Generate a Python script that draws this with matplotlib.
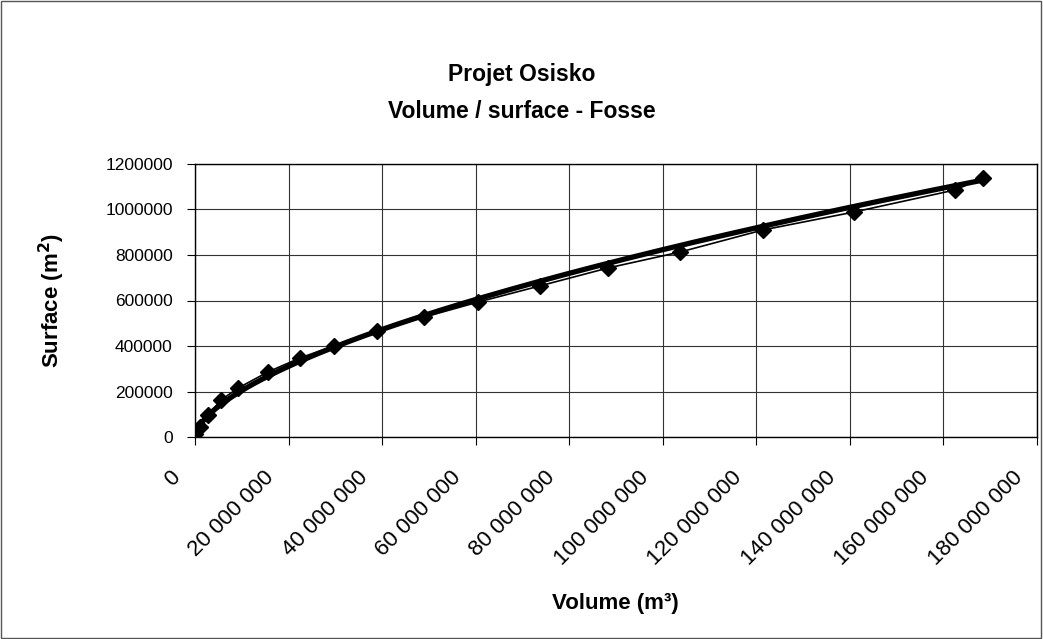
import numpy as np
import matplotlib
matplotlib.use("Agg")
import matplotlib.pyplot as plt
from matplotlib.ticker import FuncFormatter, MultipleLocator
from matplotlib.patches import Rectangle
from matplotlib.transforms import ScaledTranslation

plt.rcParams['font.family'] = ['Liberation Sans', 'DejaVu Sans']

# Data
volume_m3 = [0, 1.1e6, 2.8e6, 5.6e6, 9.2e6, 15.6e6, 22.4e6, 29.7e6, 38.9e6,
             49.0e6, 60.5e6, 73.7e6, 88.3e6, 103.7e6, 121.4e6, 140.9e6,
             162.5e6, 168.4e6]
surface_m2 = [12000, 44000, 97000, 163000, 215000, 286000, 347000, 400000,
              466000, 527000, 593000, 664000, 743000, 813000, 910000, 989000,
              1086000, 1138000]

title_lines = ["Projet Osisko", "Volume / surface - Fosse"]
x_label = "Volume (m³)"
y_label = r"Surface (m$^{\mathbf{2}}$)"

fig = plt.figure(figsize=(10.43, 6.39), dpi=100)
ax = fig.add_axes([195/1043, 1-437/639, (1037-195)/1043, (437-164)/639])

vx = np.array(volume_m3)
sy = np.array(surface_m2)

# Power trendline (as in the spreadsheet chart)
mask = vx > 0
b, loga = np.polyfit(np.log(vx[mask]), np.log(sy[mask]), 1)
xt = np.linspace(vx[mask].min() * 0.3, vx.max(), 400)
ax.plot(xt, np.exp(loga) * xt ** b, color='black', lw=3.8, zorder=3,
        solid_capstyle='round')

ax.plot(vx, sy, color='black', lw=1.2, marker='D', markersize=8.5,
        markerfacecolor='black', markeredgecolor='black', zorder=4)

ax.set_xlim(0, 180e6)
ax.set_ylim(0, 1200000)
ax.xaxis.set_major_locator(MultipleLocator(20e6))
ax.yaxis.set_major_locator(MultipleLocator(200000))

def fmt_x(v, pos):
    return f"{int(round(v)):,}".replace(",", " ")
ax.xaxis.set_major_formatter(FuncFormatter(fmt_x))
ax.yaxis.set_major_formatter(FuncFormatter(lambda v, p: f"{int(round(v))}"))

ax.grid(True, color='#333333', lw=0.8)
ax.set_axisbelow(True)
for s in ax.spines.values():
    s.set_color('black')
    s.set_linewidth(1.0)

ax.tick_params(axis='both', direction='out', length=6, width=0.8,
               colors='black')
ax.tick_params(axis='x', pad=0, labelsize=16)
ax.tick_params(axis='y', pad=10, labelsize=12.5)

offset = ScaledTranslation(-0.25, -0.22, fig.dpi_scale_trans)
for lab in ax.get_xticklabels():
    lab.set_rotation(45)
    lab.set_ha('right')
    lab.set_va('top')
    lab.set_rotation_mode('anchor')
    lab.set_transform(lab.get_transform() + offset)

ax.set_xlabel(x_label, fontsize=16, fontweight='bold')
ax.xaxis.set_label_coords(615/1043, 1-604/639, transform=fig.transFigure)
ax.xaxis.label.set_va('center')
ax.set_ylabel(y_label, fontsize=16, fontweight='bold')
ax.yaxis.set_label_coords(52/1043, 1-301/639, transform=fig.transFigure)
ax.yaxis.label.set_va('center')

fig.text(522/1043, 1-75/639, title_lines[0], ha='center', va='center',
         fontsize=16.5, fontweight='bold')
fig.text(522/1043, 1-112/639, title_lines[1], ha='center', va='center',
         fontsize=16.5, fontweight='bold')

fig.patches.append(Rectangle((0.001, 0.001), 0.997, 0.997,
                             transform=fig.transFigure, fill=False,
                             edgecolor='#555555', lw=1.0))

fig.savefig("out.png", dpi=100)
